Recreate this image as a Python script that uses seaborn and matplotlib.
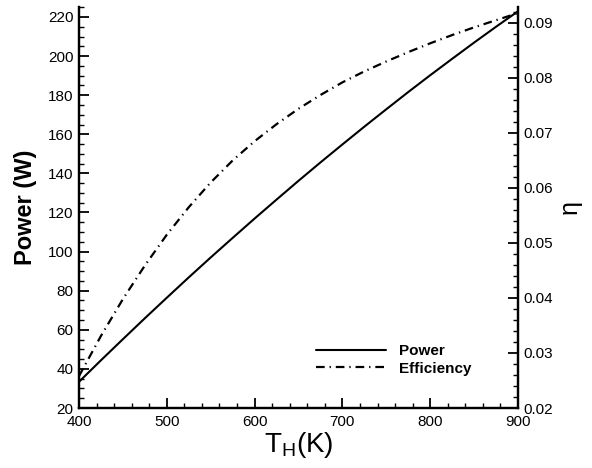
import matplotlib
matplotlib.use('Agg')
import matplotlib.pyplot as plt
import seaborn as sns
import pandas as pd
from matplotlib.ticker import MultipleLocator, FormatStrFormatter

# ---- data ----
T_H = [400, 425, 450, 475, 500, 525, 550, 575, 600, 625, 650,
       675, 700, 725, 750, 775, 800, 825, 850, 875, 900]
power = [33.4, 44.4, 55.2, 65.9, 76.4, 86.8, 97.0, 107.0, 116.9, 126.6, 136.2,
         145.6, 154.8, 163.9, 172.8, 181.6, 190.2, 198.6, 206.9, 215.0, 222.9]
efficiency = [0.0258, 0.0331, 0.0398, 0.0459, 0.0515, 0.0565, 0.0610, 0.0650,
              0.0685, 0.0716, 0.0744, 0.0769, 0.0792, 0.0812, 0.0830, 0.0847,
              0.0863, 0.0878, 0.0892, 0.0905, 0.0918]
series_labels = ['Power', 'Efficiency']

df = pd.DataFrame({'T': T_H, 'P': power, 'eta': efficiency})

sns.set_style('white')
plt.rcParams['font.family'] = ['Liberation Sans', 'DejaVu Sans']
plt.rcParams['mathtext.fontset'] = 'custom'
plt.rcParams['mathtext.rm'] = 'Liberation Sans'
plt.rcParams['text.color'] = 'black'
plt.rcParams['axes.labelcolor'] = 'black'

fig = plt.figure(figsize=(5.92, 4.68), dpi=100)
ax = fig.add_axes([79/592, 1-408/468, (518-79)/592, (408-7)/468])
ax2 = ax.twinx()

sns.lineplot(data=df, x='T', y='P', ax=ax, color='black', lw=1.5, legend=False)
sns.lineplot(data=df, x='T', y='eta', ax=ax2, color='black', lw=1.6,
             linestyle=(0, (3.9, 2.2, 0.6, 2.2)), legend=False)

ax.set_xlim(400, 900)
ax.set_ylim(20, 225.1)
ax2.set_ylim(0.02, 0.0929)

ax.xaxis.set_major_locator(MultipleLocator(100))
ax.xaxis.set_minor_locator(MultipleLocator(20))
ax.yaxis.set_major_locator(MultipleLocator(20))
ax.yaxis.set_minor_locator(MultipleLocator(5))
ax2.yaxis.set_major_locator(MultipleLocator(0.01))
ax2.yaxis.set_minor_locator(MultipleLocator(0.002))
ax2.yaxis.set_major_formatter(FormatStrFormatter('%.2f'))

for a in (ax, ax2):
    a.spines['top'].set_visible(False)
    for s in ('left', 'right', 'bottom'):
        a.spines[s].set_color('black')
        a.spines[s].set_linewidth(1.6)
    a.tick_params(which='major', direction='in', length=7, width=1.3,
                  labelsize=11, colors='black', pad=4)
    a.tick_params(which='minor', direction='in', length=3.6, width=1.0,
                  colors='black')
ax.tick_params(axis='x', which='both', bottom=True)
ax.tick_params(axis='y', which='both', left=True, right=False)
ax2.tick_params(axis='y', which='both', right=True, left=False)
ax.tick_params(axis='x', pad=5)

ax.set_xlabel(r'T$_\mathregular{H}$(K)', fontsize=20, labelpad=1, color='black')
ax.set_ylabel('Power (W)', fontsize=17, fontweight='bold', labelpad=8, color='black')
ax2.set_ylabel('η', fontsize=18, labelpad=3, color='black')

handles = [ax.lines[0], ax2.lines[0]]
leg = ax2.legend(handles, series_labels, loc='center left',
                 bbox_to_anchor=(0.54, 0.12), frameon=False,
                 prop={'weight': 'bold', 'size': 11}, handlelength=4.6,
                 handletextpad=0.8, labelspacing=0.25, borderpad=0,
                 borderaxespad=0)
for t in leg.get_texts():
    t.set_color('black')

fig.savefig('out.png', dpi=100)
